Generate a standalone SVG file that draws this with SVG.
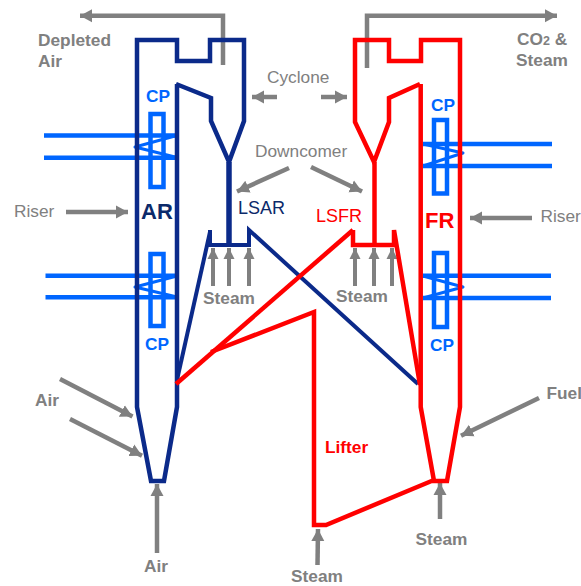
<svg xmlns="http://www.w3.org/2000/svg" width="581" height="586" viewBox="0 0 581 586">
<defs>
<marker id="ah" markerUnits="userSpaceOnUse" markerWidth="14" markerHeight="14" refX="12" refY="7" orient="auto"><path d="M0,0.5 L12,7 L0,13.5 Z" fill="#808080"/></marker>
<marker id="as" markerUnits="userSpaceOnUse" markerWidth="12" markerHeight="12" refX="11" refY="6" orient="auto"><path d="M0,0.5 L11,6 L0,11.5 Z" fill="#808080"/></marker>
</defs>
<style>
.l{fill:none;stroke-linejoin:miter;stroke-linecap:butt}
.n{stroke:#0b2a8a;stroke-width:4.5}
.r{stroke:#ff0000;stroke-width:4.5}
.b{stroke:#0066ff;stroke-width:4.5}
.z{fill:none;stroke:#0066ff;stroke-width:3;stroke-linejoin:round}
.g{fill:none;stroke:#808080;stroke-width:4.5;marker-end:url(#ah)}
.s{fill:none;stroke:#808080;stroke-width:4;marker-end:url(#as)}
text{font-family:"Liberation Sans",Arial,sans-serif;font-weight:bold;fill:#808080;font-size:17.3px}
.t{font-weight:normal}
.c{fill:#0066ff}
.rd{fill:#ff0000}
.nv{fill:#0b2a6a}
</style>
<rect width="581" height="586" fill="#ffffff"/>
<g id="connectors">
<path class="g" d="M223,65 V15.7 H80"/>
<path class="g" d="M367,68 V15.7 H557"/>
<path class="g" d="M277,97 H252"/>
<path class="g" d="M321,97 H347"/>
<path class="g" d="M289,168 L237,191.5"/>
<path class="g" d="M311,167 L362,191.5"/>
<path class="g" d="M66,212 H128"/>
<path class="g" d="M532,218 H470"/>
<path class="s" d="M213,286 V248"/>
<path class="s" d="M229,286 V248"/>
<path class="s" d="M249,286 V248"/>
<path class="s" d="M355,286 V248"/>
<path class="s" d="M374,286 V248"/>
<path class="s" d="M392,286 V248"/>
<path class="g" d="M60,379 L132.5,416.5"/>
<path class="g" d="M70,419 L142,455.7"/>
<path class="g" d="M157,553 V484"/>
<path class="g" d="M440,519 V483"/>
<path class="g" d="M317.5,565 L318,529"/>
<path class="g" d="M539,398 L461,435.7"/>
</g>
<g id="coils">
<path class="l b" d="M44,135.6 H175 M44,157.7 H175"/>
<path class="z" d="M175,136 L135,147 L175,157"/>
<path class="l b" d="M45.5,275.7 H178 M45.5,297.3 H178"/>
<path class="z" d="M177,276 L135,287 L177,297"/>
<path class="l b" d="M552,144 H423 M552,166 H423"/>
<path class="z" d="M423,144 L463,153 L423,166"/>
<path class="l b" d="M551,275.7 H423 M551,298 H423"/>
<path class="z" d="M423,276 L463,287 L423,298"/>
<rect id="cp-1" class="l b" x="150.5" y="114" width="13" height="73"/>
<rect id="cp-2" class="l b" x="150.5" y="254" width="13" height="72"/>
<rect id="cp-3" class="l b" x="434" y="120" width="13" height="73.5"/>
<rect id="cp-4" class="l b" x="434" y="253" width="13" height="74"/>
</g>
<g id="air-reactor">
<path class="l n" d="M176,84 L211,98 V121 L229,162 L244,121 V40 H210 V61 H177 V40 H137 V407 L151,481 H164 L177,407 V84"/>
<path class="l n" d="M229,162 V243" style="stroke-width:5.5"/>
<path class="l n" d="M210,230 V245 H249 V230 L418,384" style="stroke-width:4"/>
<path class="l n" d="M210,232 L177,380" style="stroke-width:4"/>
</g>
<g id="fuel-reactor">
<path class="l r" d="M420,84 L389,98 V122 L374,162 L355,122 V40 H389 V61 H421 V40 H460 V407 L447,481 H434 L420.7,407 V84"/>
<path class="l r" d="M374.5,162 V243"/>
<path class="l r" d="M353,230 V245 H394 V230 L420,385"/>
<path class="l r" d="M353,230 L176,384"/>
<path class="l r" d="M211,352 L314,312 V525 H326 L434,480"/>
</g>
<g id="labels">
<text x="38" y="46">Depleted</text>
<text x="38" y="67">Air</text>
<text x="517" y="45">CO<tspan font-size="12.5">2</tspan> &amp;</text>
<text x="516" y="66">Steam</text>
<text class="t" x="267" y="83">Cyclone</text>
<text class="t" x="255" y="157">Downcomer</text>
<text class="t" x="14" y="216.5">Riser</text>
<text class="t" x="540.5" y="222">Riser</text>
<text class="c" x="146" y="102">CP</text>
<text class="c" x="145" y="350">CP</text>
<text class="c" x="431" y="110.5">CP</text>
<text class="c" x="430" y="350.5">CP</text>
<text class="nv" x="141" y="219" style="font-size:22px">AR</text>
<text class="rd" x="425" y="228" style="font-size:22px">FR</text>
<text class="nv t" x="238" y="214" style="font-size:18px">LSAR</text>
<text class="rd t" x="316" y="222" style="font-size:18px">LSFR</text>
<text x="203" y="304">Steam</text>
<text x="336" y="302">Steam</text>
<text x="35" y="406">Air</text>
<text x="144" y="571.5">Air</text>
<text class="rd" x="325" y="453">Lifter</text>
<text x="546.5" y="399">Fuel</text>
<text x="415.5" y="545">Steam</text>
<text x="291" y="582">Steam</text>
</g>
</svg>
